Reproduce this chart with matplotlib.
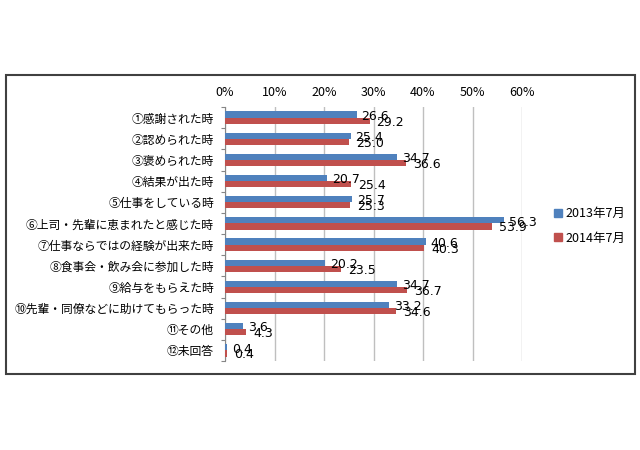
import matplotlib
matplotlib.use("Agg")
import matplotlib.pyplot as plt
from matplotlib.patches import Rectangle, Patch
import numpy as np

plt.rcParams['font.family'] = ['Noto Sans CJK JP', 'DejaVu Sans']

categories = ["①感謝された時", "②認められた時", "③褒められた時", "④結果が出た時",
              "⑤仕事をしている時", "⑥上司・先輩に恵まれたと感じた時",
              "⑦仕事ならではの経験が出来た時", "⑧食事会・飲み会に参加した時",
              "⑨給与をもらえた時", "⑩先輩・同僚などに助けてもらった時",
              "⑪その他", "⑫未回答"]
v2013 = [26.6, 25.4, 34.7, 20.7, 25.7, 56.3, 40.6, 20.2, 34.7, 33.2, 3.6, 0.4]
v2014 = [29.2, 25.0, 36.6, 25.4, 25.3, 53.9, 40.3, 23.5, 36.7, 34.6, 4.3, 0.4]
series_names = ["2013年7月", "2014年7月"]
xticks = [0, 10, 20, 30, 40, 50, 60]
xticklabels = ["0%", "10%", "20%", "30%", "40%", "50%", "60%"]

c_blue = "#4F81BD"
c_red = "#C0504D"

fig = plt.figure(figsize=(6.4, 4.5), dpi=100)
ax = fig.add_axes([225/640, 1-361/450, (522-225)/640, (361-107)/450])

n = len(categories)
y = np.arange(n)
h = 0.29
ax.barh(y - h/2, v2013, height=h, color=c_blue, zorder=3)
ax.barh(y + h/2, v2014, height=h, color=c_red, zorder=3)

for i in range(n):
    ax.annotate(f"{v2013[i]:.1f}", xy=(v2013[i], y[i] - h/2), xytext=(3.5, -1.2),
                textcoords="offset points", ha="left", va="center", fontsize=9,
                family=['DejaVu Sans'], color="#000000", zorder=4)
    ax.annotate(f"{v2014[i]:.1f}", xy=(v2014[i], y[i] + h/2), xytext=(5, -1),
                textcoords="offset points", ha="left", va="center", fontsize=9,
                family=['DejaVu Sans'], color="#000000", zorder=4)

ax.set_xlim(0, 60)
ax.set_ylim(n - 0.5, -0.5)
ax.set_xticks(xticks)
ax.set_xticklabels(xticklabels, fontsize=9)
ax.xaxis.tick_top()
ax.tick_params(axis='x', length=0, pad=6)
ax.grid(axis='x', color="#BFBFBF", lw=1, zorder=0)

ax.set_yticks(np.arange(-0.5, n, 1.0))
ax.set_yticklabels([])
ax.set_yticks(y, minor=True)
ax.set_yticklabels(categories, minor=True, fontsize=8.5)
ax.tick_params(axis='y', which='major', length=3, color="#868686", direction='out')
ax.tick_params(axis='y', which='minor', length=0, pad=8)

for s in ['top', 'right', 'bottom']:
    ax.spines[s].set_visible(False)
ax.spines['left'].set_color("#868686")

handles = [Patch(color=c_blue), Patch(color=c_red)]
fig.legend(handles, series_names, loc='center left', bbox_to_anchor=(543/640, 1-226/450),
           frameon=False, fontsize=9, handlelength=0.6, handleheight=0.6,
           handletextpad=0.3, labelspacing=0.9)

fig.patches.append(Rectangle((6/640, 1-374/450), (635-6)/640, (374-75)/450,
                             transform=fig.transFigure, fill=False,
                             edgecolor="#404040", lw=1.5))

fig.savefig("out.png", dpi=100)
